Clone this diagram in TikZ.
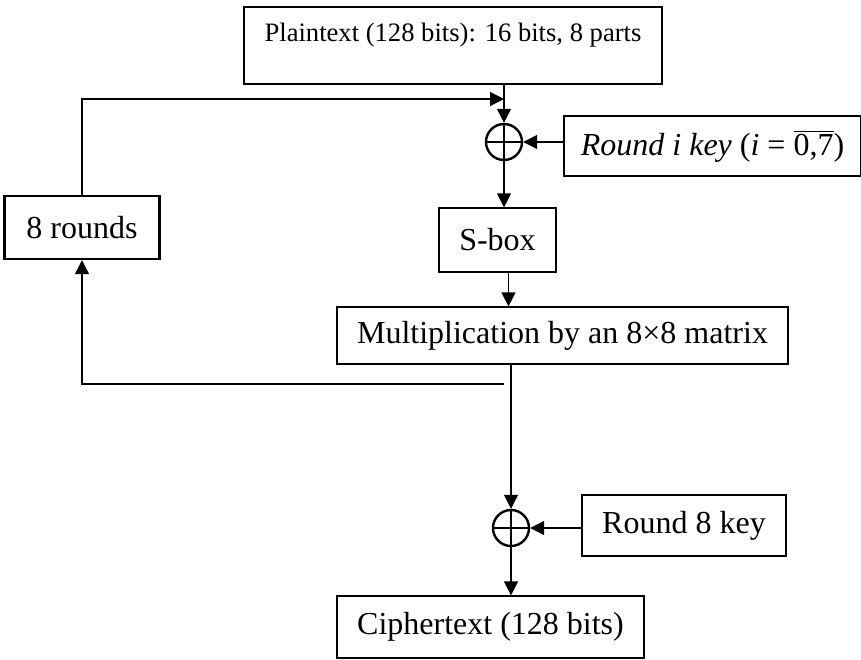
\documentclass[tikz,border=0pt]{standalone}
\usepackage{fontspec}
\setmainfont{Liberation Serif}
\usetikzlibrary{positioning,arrows.meta,calc}
\tikzset{
  node-box/.style={draw,line width=0.6pt,inner sep=0pt,align=center,
    font=\fontsize{16}{19}\selectfont},
  node-thick/.style={line width=1.2pt},
  node-xor/.style={draw,line width=1.2pt,circle,minimum size=18pt,inner sep=0pt,
    path picture={\draw[line width=1.2pt]
      (path picture bounding box.north) -- (path picture bounding box.south)
      (path picture bounding box.west) -- (path picture bounding box.east);}},
  arrow/.style={-{Triangle[length=7pt,width=7pt]},line width=0.6pt},
  link/.style={line width=0.6pt},
}

\begin{document}
\begin{tikzpicture}[x=0.5pt,y=-0.5pt]
  \useasboundingbox (0,0) rectangle (861,659);
  % main column
  \node[node-box,minimum width=209pt,minimum height=38.5pt,
    font=\fontsize{13.3}{15}\selectfont,text height=13pt,text depth=17.5pt] (plain) at (453,45.5)
    {Plaintext (128 bits): 16 bits, 8 parts};
  \node[node-xor] (xor1) at (504,142) {};
  \node[node-box,minimum width=148.5pt,minimum height=30pt] (rkey) at (712.5,146)
    {\textit{Round i key} (\textit{i} = $\overline{\hbox{0,7}}$)};
  \node[node-box,minimum width=58.5pt,minimum height=32pt] (sbox) at (497.5,240) {S-box};
  \node[node-box,minimum width=225.5pt,minimum height=28.5pt] (mult) at (562.5,335.5)
    {Multiplication by an 8×8 matrix};
  \node[node-box,node-thick,minimum width=77.5pt,minimum height=31.5pt] (rounds) at (82,227.5) {8 rounds};
  \node[node-xor] (xor2) at (511,528) {};
  \node[node-box,minimum width=102pt,minimum height=30.5pt] (rkey8) at (684,525.5) {Round 8 key};
  \node[node-box,minimum width=153.5pt,minimum height=31pt] (cipher) at (490.5,627) {Ciphertext (128 bits)};
  \coordinate (join) at (504,99);
  \coordinate (tap) at (504,384);

  \draw[arrow] (plain.south -| xor1) -- (xor1);
  \draw[arrow] (rkey.west |- xor1) -- (xor1);
  \draw[arrow] (xor1) -- (xor1 |- sbox.north);
  \draw[arrow] ([xshift=5.5pt]sbox.south) -- ([xshift=5.5pt]sbox.south |- mult.north);
  \draw[arrow] (mult.south -| xor2) -- (xor2);
  \draw[arrow] (rkey8.west |- xor2) -- (xor2);
  \draw[arrow] (xor2) -- (xor2 |- cipher.north);
  % loop over the rounds
  \draw[arrow] (rounds.north) |- (join);
  \draw[arrow] (tap) -| (rounds.south);
\end{tikzpicture}
\end{document}
